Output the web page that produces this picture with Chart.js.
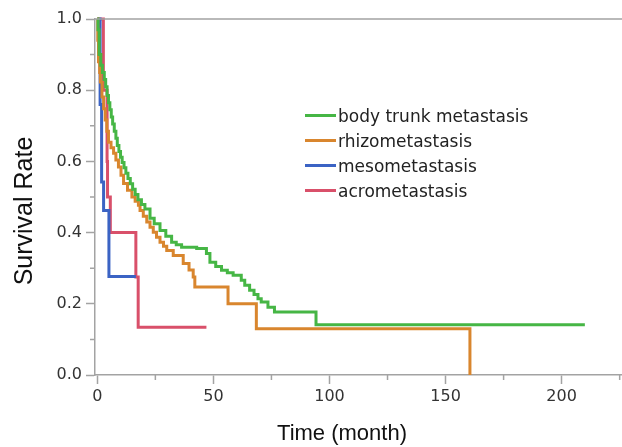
<!DOCTYPE html>
<html>
<head>
<meta charset="utf-8">
<script src="https://cdn.jsdelivr.net/npm/chart.js@4.4.1/dist/chart.umd.min.js"></script>
<style>
  body { margin: 0; background: #fff; }
  #wrap { position: relative; width: 622px; height: 447px; }
  #legend { position: absolute; left: 305px; top: 103px; font: 17px "DejaVu Sans", sans-serif; color: #222; }
  .row { height: 25px; display: flex; align-items: center; }
  .swatch { width: 31px; height: 3px; margin-right: 2px; }
</style>
</head>
<body>
<div id="wrap">
  <canvas id="km" width="622" height="447"></canvas>
  <div id="legend"></div>
</div>
<script>
// 데이터 (Kaplan-Meier 곡선, 그림에서 읽은 값)
const seriesNames = ['body trunk metastasis', 'rhizometastasis', 'mesometastasis', 'acrometastasis'];
const seriesColors = ['#46b645', '#d9862e', '#3b63c4', '#d9506a'];

const greenTime = [0, 0.3, 0.8, 1.5, 2.2, 3.0, 3.6, 4.2, 4.8, 5.4, 6.0, 6.6, 7.3, 8.0, 8.6, 9.3, 10.0, 10.7, 11.5, 12.3, 13.2, 14.2, 15.2, 16.3, 17.5, 19.0, 20.5, 22.7, 24.5, 27.0, 29.5, 32.0, 34.0, 36.3, 42.8, 47.0, 48.5, 51.0, 53.5, 56.0, 58.5, 62.0, 63.5, 65.6, 67.5, 69.2, 70.6, 73.5, 76.3, 94.2, 210];
const greenSurv = [1, 0.97, 0.9, 0.87, 0.85, 0.83, 0.81, 0.785, 0.765, 0.745, 0.725, 0.705, 0.685, 0.665, 0.645, 0.628, 0.612, 0.597, 0.582, 0.567, 0.552, 0.537, 0.522, 0.507, 0.492, 0.479, 0.466, 0.44, 0.425, 0.406, 0.39, 0.373, 0.366, 0.359, 0.355, 0.341, 0.317, 0.305, 0.294, 0.287, 0.28, 0.266, 0.252, 0.238, 0.226, 0.214, 0.205, 0.19, 0.177, 0.141, 0.141];

const orangeTime = [0, 0.2, 0.5, 1.0, 1.3, 2.0, 2.7, 3.4, 4.1, 4.8, 5.9, 7.0, 8.0, 9.1, 10.2, 11.3, 13.0, 14.9, 16.3, 17.7, 18.4, 19.8, 21.3, 22.7, 24.1, 25.5, 27.0, 28.5, 29.9, 32.7, 37.0, 39.5, 41.3, 42.0, 56.3, 68.5, 160.5];
const orangeSurv = [1, 0.94, 0.88, 0.85, 0.823, 0.781, 0.748, 0.716, 0.685, 0.654, 0.638, 0.623, 0.604, 0.584, 0.561, 0.538, 0.519, 0.5, 0.488, 0.477, 0.462, 0.446, 0.43, 0.415, 0.401, 0.387, 0.373, 0.362, 0.35, 0.336, 0.313, 0.295, 0.275, 0.247, 0.2, 0.13, 0];

const blueTime = [0, 1.2, 1.85, 2.7, 5.0, 16.6];
const blueSurv = [1, 0.76, 0.542, 0.462, 0.277, 0.277];

const redTime = [0, 2.6, 4.2, 4.4, 5.6, 16.6, 17.6, 47];
const redSurv = [1, 0.8, 0.6, 0.5, 0.4, 0.275, 0.134, 0.134];

const xTicks = [0, 50, 100, 150, 200];
const xMinorTicks = [25, 75, 125, 175, 225];
const yTicks = [0, 0.2, 0.4, 0.6, 0.8, 1.0];
const yMinorTicks = [0.1, 0.3, 0.5, 0.7, 0.9];

const axisGray = '#a3a3a3';

function toPoints(ts, ss) {
  return ts.map((t, i) => ({ x: t, y: ss[i] }));
}

const allSeries = [
  toPoints(greenTime, greenSurv),
  toPoints(orangeTime, orangeSurv),
  toPoints(blueTime, blueSurv),
  toPoints(redTime, redSurv)
];

// 보조 눈금, 위쪽 테두리, 축 제목
const extras = {
  id: 'extras',
  afterDraw(chart) {
    const { ctx, chartArea, scales } = chart;
    ctx.save();
    ctx.strokeStyle = axisGray;
    ctx.lineWidth = 1.5;
    ctx.beginPath();
    ctx.moveTo(chartArea.left, chartArea.top);
    ctx.lineTo(chartArea.right, chartArea.top);
    xMinorTicks.forEach(v => {
      const px = scales.x.getPixelForValue(v);
      ctx.moveTo(px, chartArea.bottom);
      ctx.lineTo(px, chartArea.bottom + 5);
    });
    yMinorTicks.forEach(v => {
      const py = scales.y.getPixelForValue(v);
      ctx.moveTo(chartArea.left - 5, py);
      ctx.lineTo(chartArea.left, py);
    });
    ctx.stroke();

    ctx.fillStyle = '#111';
    ctx.textAlign = 'center';
    ctx.textBaseline = 'middle';
    ctx.font = '22px "Liberation Sans", Arial, sans-serif';
    ctx.fillText('Time (month)', 342, 434);
    ctx.translate(25, 211);
    ctx.rotate(-Math.PI / 2);
    ctx.font = '25px "Liberation Sans", Arial, sans-serif';
    ctx.fillText('Survival Rate', 0, 0);
    ctx.restore();
  }
};

new Chart(document.getElementById('km'), {
  type: 'line',
  data: {
    datasets: allSeries.map((pts, i) => ({
      label: seriesNames[i],
      data: pts,
      borderColor: seriesColors[i],
      borderWidth: 3,
      pointRadius: 0,
      stepped: true,
      fill: false,
      clip: 4
    }))
  },
  options: {
    responsive: false,
    animation: false,
    layout: { padding: { top: 19, right: 0, left: 0, bottom: 0 } },
    plugins: { legend: { display: false }, tooltip: { enabled: false } },
    scales: {
      x: {
        type: 'linear',
        min: -1,
        max: 226,
        afterBuildTicks: s => { s.ticks = xTicks.map(v => ({ value: v })); },
        afterFit: s => { s.height = 72; },
        grid: { drawOnChartArea: false, tickLength: 9, color: axisGray, tickWidth: 1.5 },
        border: { color: axisGray, width: 1.5 },
        ticks: { font: { family: 'DejaVu Sans', size: 16 }, color: '#333', padding: 3, maxRotation: 0, autoSkip: false }
      },
      y: {
        min: 0,
        max: 1,
        afterBuildTicks: s => { s.ticks = yTicks.map(v => ({ value: v })); },
        afterFit: s => { s.width = 95; },
        grid: { drawOnChartArea: false, tickLength: 9, color: axisGray, tickWidth: 1.5 },
        border: { color: axisGray, width: 1.5 },
        ticks: { font: { family: 'DejaVu Sans', size: 16 }, color: '#333', padding: 4, callback: v => v.toFixed(1) }
      }
    }
  },
  plugins: [extras]
});

// 범례
const legend = document.getElementById('legend');
seriesNames.forEach((name, i) => {
  const row = document.createElement('div');
  row.className = 'row';
  row.innerHTML = `<span class="swatch" style="background:${seriesColors[i]}"></span><span>${name}</span>`;
  legend.appendChild(row);
});
</script>
</body>
</html>
